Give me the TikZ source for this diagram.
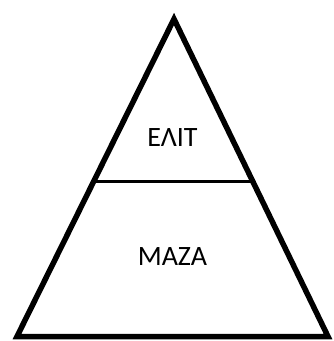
\documentclass[tikz,border=0pt]{standalone}
\usepackage{fontspec}
\setmainfont{Carlito}
\usetikzlibrary{calc}

\begin{document}
\begin{tikzpicture}[
  x=1pt, y=-1pt,
  side/.style={line width=5.5pt, line join=miter},
  divider/.style={line width=3.2pt},
  label/.style={font=\fontsize{28}{32}\selectfont, inner sep=0pt}
]
  \useasboundingbox (0,0) rectangle (334,341);

  \coordinate (apex) at (174,19);
  \coordinate (left) at (17,336.5);
  \coordinate (right) at (328,336.5);

  \draw[side] (apex) -- (left) -- (right) -- cycle;

  \coordinate (divl) at ($(apex)!0.511!(left)$);
  \coordinate (divr) at ($(apex)!0.511!(right)$);
  \draw[divider] (divl) -- (divr);

  \node[label] (elite) at (172.5,138) {ΕΛΙΤ};
  \node[label] (mass) at (172.5,257) {ΜΑΖΑ};
\end{tikzpicture}
\end{document}
